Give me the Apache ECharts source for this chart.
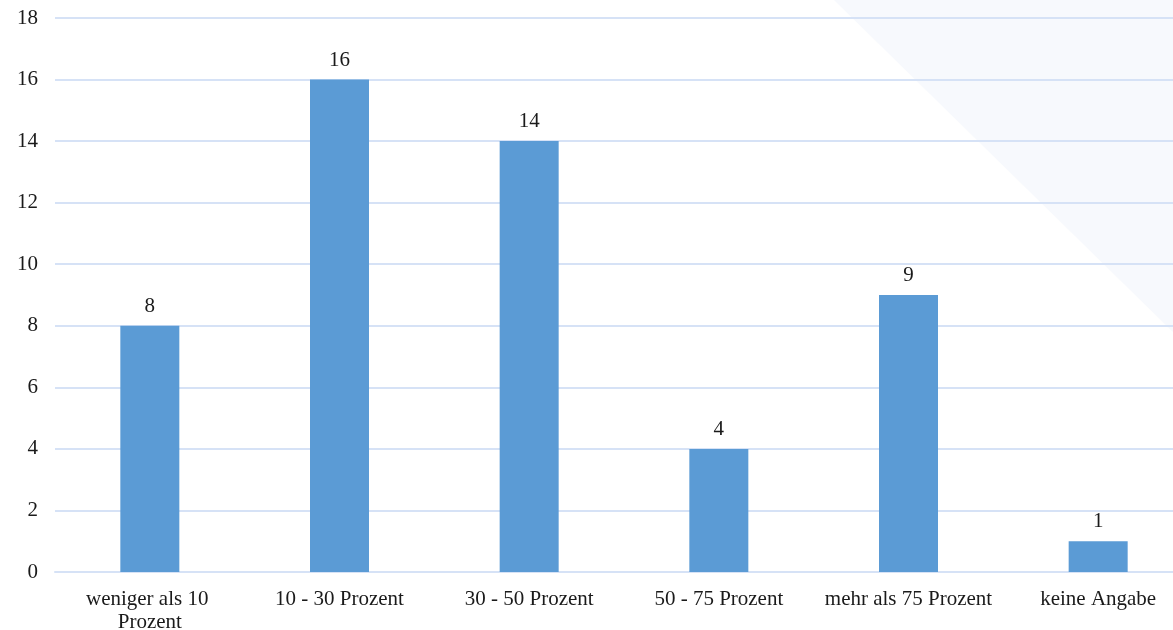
<!DOCTYPE html>
<html>
<head>
<meta charset="utf-8">
<style>
  html, body { margin: 0; padding: 0; background: #ffffff; }
  #chart { width: 1173px; height: 630px; }
</style>
<script src="https://cdn.jsdelivr.net/npm/echarts@6/dist/echarts.min.js"></script>
</head>
<body>
<div id="chart"></div>
<script>
// Anteil-Kategorien und Anzahl der Nennungen
const categories = [
  'weniger als 10 Prozent',
  '10 - 30 Prozent',
  '30 - 50 Prozent',
  '50 - 75 Prozent',
  'mehr als 75 Prozent',
  'keine Angabe'
];
const counts = [8, 16, 14, 4, 9, 1];
const yTicks = { min: 0, max: 18, interval: 2 };

const font = '"Liberation Serif", "Times New Roman", serif';
const chart = echarts.init(document.getElementById('chart'), null, { renderer: 'canvas' });

chart.setOption({
  backgroundColor: '#ffffff',
  animation: false,
  graphic: [{
    type: 'polygon',
    z: -10,
    silent: true,
    shape: { points: [[834, 0], [1173, 0], [1173, 332]] },
    style: { fill: '#f7f9fd' }
  }],
  grid: {
    left: 55,
    top: 18,
    width: 1138,
    height: 554,
    containLabel: false,
    outerBoundsMode: 'none'
  },
  xAxis: {
    type: 'category',
    data: categories,
    axisLine: { show: true, lineStyle: { color: '#d6e2f6', width: 2 } },
    axisTick: { show: false },
    axisLabel: {
      interval: 0,
      color: '#1a1a1a',
      fontFamily: font,
      fontSize: 21,
      margin: 16,
      lineHeight: 23,
      width: 182,
      overflow: 'break'
    }
  },
  yAxis: {
    type: 'value',
    min: yTicks.min,
    max: yTicks.max,
    interval: yTicks.interval,
    axisLine: { show: false },
    axisTick: { show: false },
    splitLine: { lineStyle: { color: '#d6e2f6', width: 2 } },
    axisLabel: {
      color: '#1a1a1a',
      fontFamily: font,
      fontSize: 21,
      margin: 17
    }
  },
  series: [{
    type: 'bar',
    data: counts,
    barWidth: 59,
    itemStyle: { color: '#5b9bd5' },
    label: {
      show: true,
      position: 'top',
      distance: 9,
      color: '#1a1a1a',
      fontFamily: font,
      fontSize: 21
    }
  }]
});
</script>
</body>
</html>
